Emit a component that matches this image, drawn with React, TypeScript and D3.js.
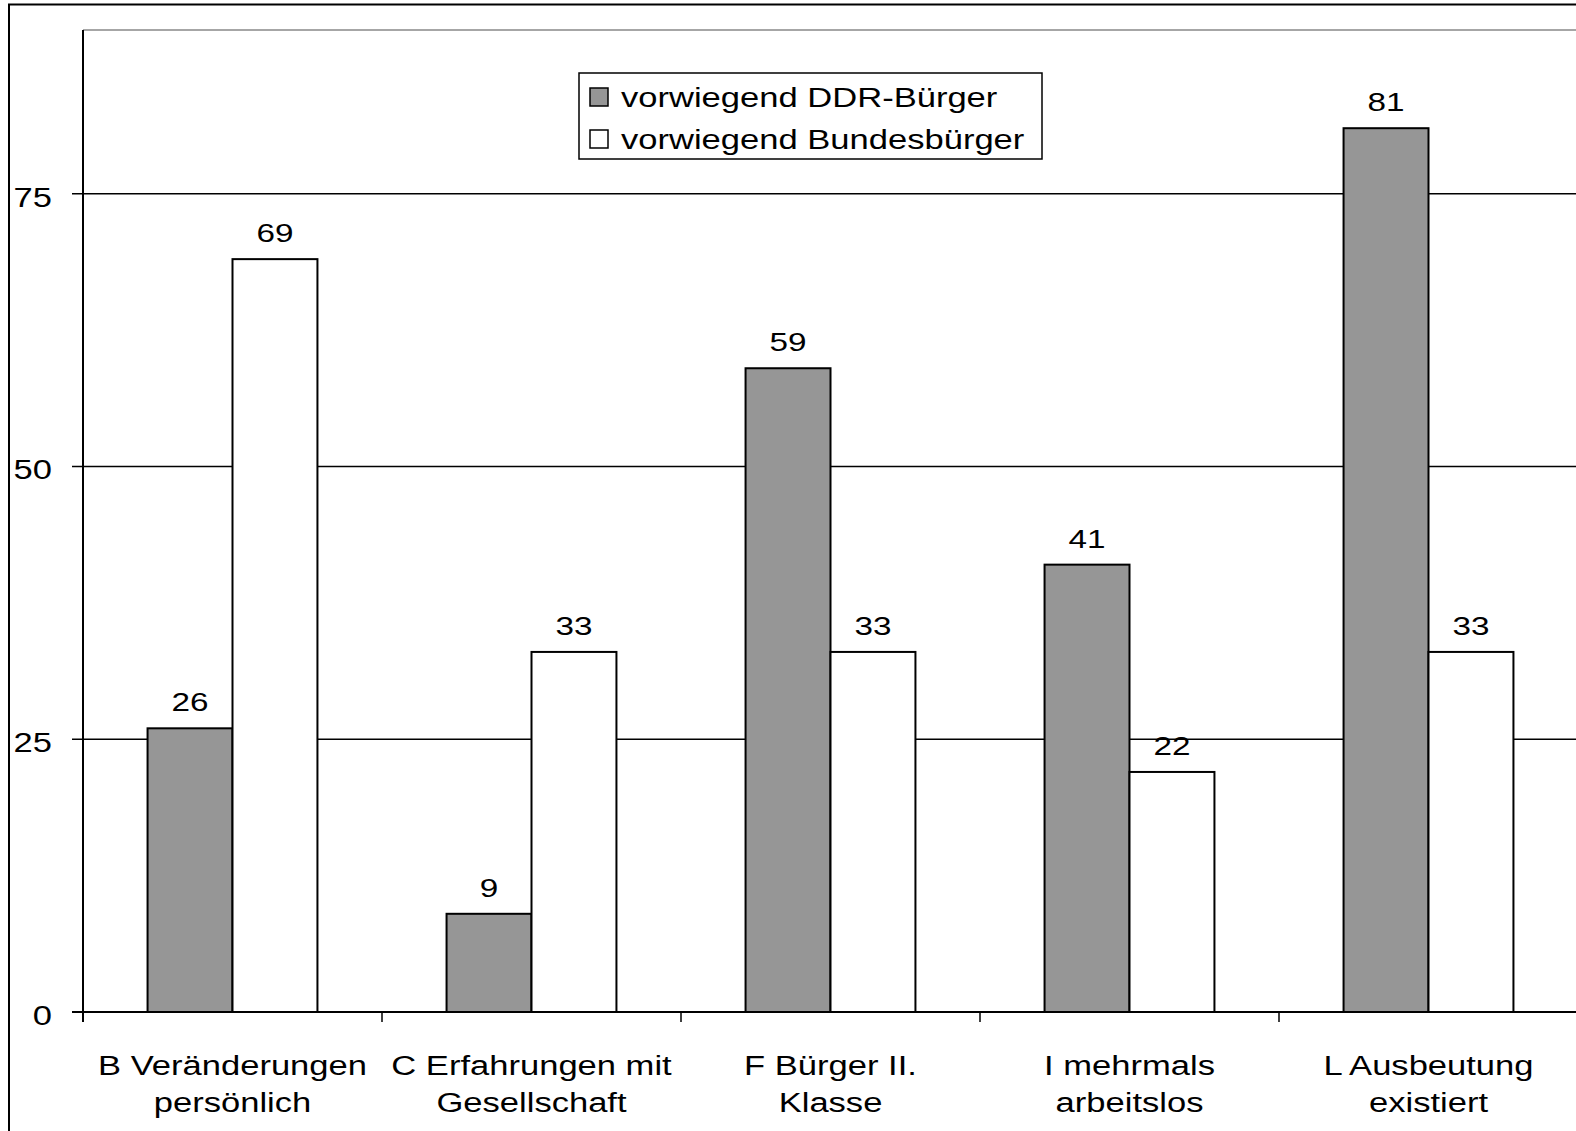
import React from 'react'
import * as d3 from 'd3'

const categories = [
  ['B Veränderungen', 'persönlich'],
  ['C Erfahrungen mit', 'Gesellschaft'],
  ['F Bürger II.', 'Klasse'],
  ['I mehrmals', 'arbeitslos'],
  ['L Ausbeutung', 'existiert'],
]
const seriesNames = ['vorwiegend DDR-Bürger', 'vorwiegend Bundesbürger']
const ddr = [26, 9, 59, 41, 81]
const bund = [69, 33, 33, 22, 33]
const yTicks = [0, 25, 50, 75]

const W = 1576
const H = 1131
const left = 83
const top = 30
const bottom = 1012
const bandW = 299
const SX = 1.28
const font = '"Liberation Sans", Arial, sans-serif'
const colors = ['#969696', '#ffffff']

const T = ({ x, y, size, anchor = 'middle', children }) => (
  <text
    transform={`translate(${x},${y}) scale(${SX},1)`}
    fontSize={size}
    textAnchor={anchor}
    fontFamily={font}
    fill="#000"
  >
    {children}
  </text>
)

const App = () => {
  const keys = categories.map((c) => c.join(' '))
  const x = d3
    .scaleBand()
    .domain(keys)
    .range([left, left + bandW * keys.length])
  const x1 = d3
    .scaleBand()
    .domain(['0', '1'])
    .range([0, x.bandwidth()])
    .paddingOuter(0.76)
  const y = d3.scaleLinear().domain([0, 90]).range([bottom, top])
  const series = [ddr, bund]

  return (
    <svg
      width={W}
      height={H}
      style={{ position: 'absolute', left: 0, top: 0, background: '#fff' }}
    >
      <rect x={9} y={4.5} width={W + 20} height={H + 20} fill="#fff" stroke="#000" strokeWidth={2} />
      {/* plot top border */}
      <line x1={left} x2={W} y1={y(90)} y2={y(90)} stroke="#888" strokeWidth={1.5} />
      {/* gridlines and y ticks */}
      {yTicks.map((t) => (
        <g key={t}>
          <line x1={72} x2={W} y1={y(t)} y2={y(t)} stroke="#000" strokeWidth={t === 0 ? 2 : 1.5} />
          <T x={52} y={y(t) + 13} size={27} anchor="end">
            {t}
          </T>
        </g>
      ))}
      {/* bars */}
      {keys.map((k, i) => (
        <g key={k}>
          {series.map((s, j) => (
            <g key={j}>
              <rect
                x={x(k) + x1(String(j))}
                y={y(s[i])}
                width={x1.bandwidth()}
                height={y(0) - y(s[i])}
                fill={colors[j]}
                stroke="#000"
                strokeWidth={2}
              />
              <T x={x(k) + x1(String(j)) + x1.bandwidth() / 2} y={y(s[i]) - 17} size={26}>
                {s[i]}
              </T>
            </g>
          ))}
        </g>
      ))}
      {/* axes */}
      <line x1={left} x2={left} y1={y(90)} y2={bottom + 10} stroke="#000" strokeWidth={2} />
      <line x1={left} x2={W} y1={bottom} y2={bottom} stroke="#000" strokeWidth={2} />
      {keys.map((k) => (
        <line key={k} x1={x(k)} x2={x(k)} y1={bottom} y2={bottom + 10} stroke="#000" strokeWidth={1.5} />
      ))}
      {categories.map((c, i) => (
        <g key={i}>
          <T x={x(keys[i]) + x.bandwidth() / 2} y={1075} size={27}>
            {c[0]}
          </T>
          <T x={x(keys[i]) + x.bandwidth() / 2} y={1112} size={27}>
            {c[1]}
          </T>
        </g>
      ))}
      {/* legend */}
      <rect x={579} y={73} width={463} height={86} fill="#fff" stroke="#000" strokeWidth={1.5} />
      {seriesNames.map((n, i) => (
        <g key={n}>
          <rect x={590} y={88 + i * 42} width={18} height={18} fill={colors[i]} stroke="#000" strokeWidth={1.5} />
          <T x={621} y={107 + i * 42} size={27} anchor="start">
            {n}
          </T>
        </g>
      ))}
    </svg>
  )
}

export default App
